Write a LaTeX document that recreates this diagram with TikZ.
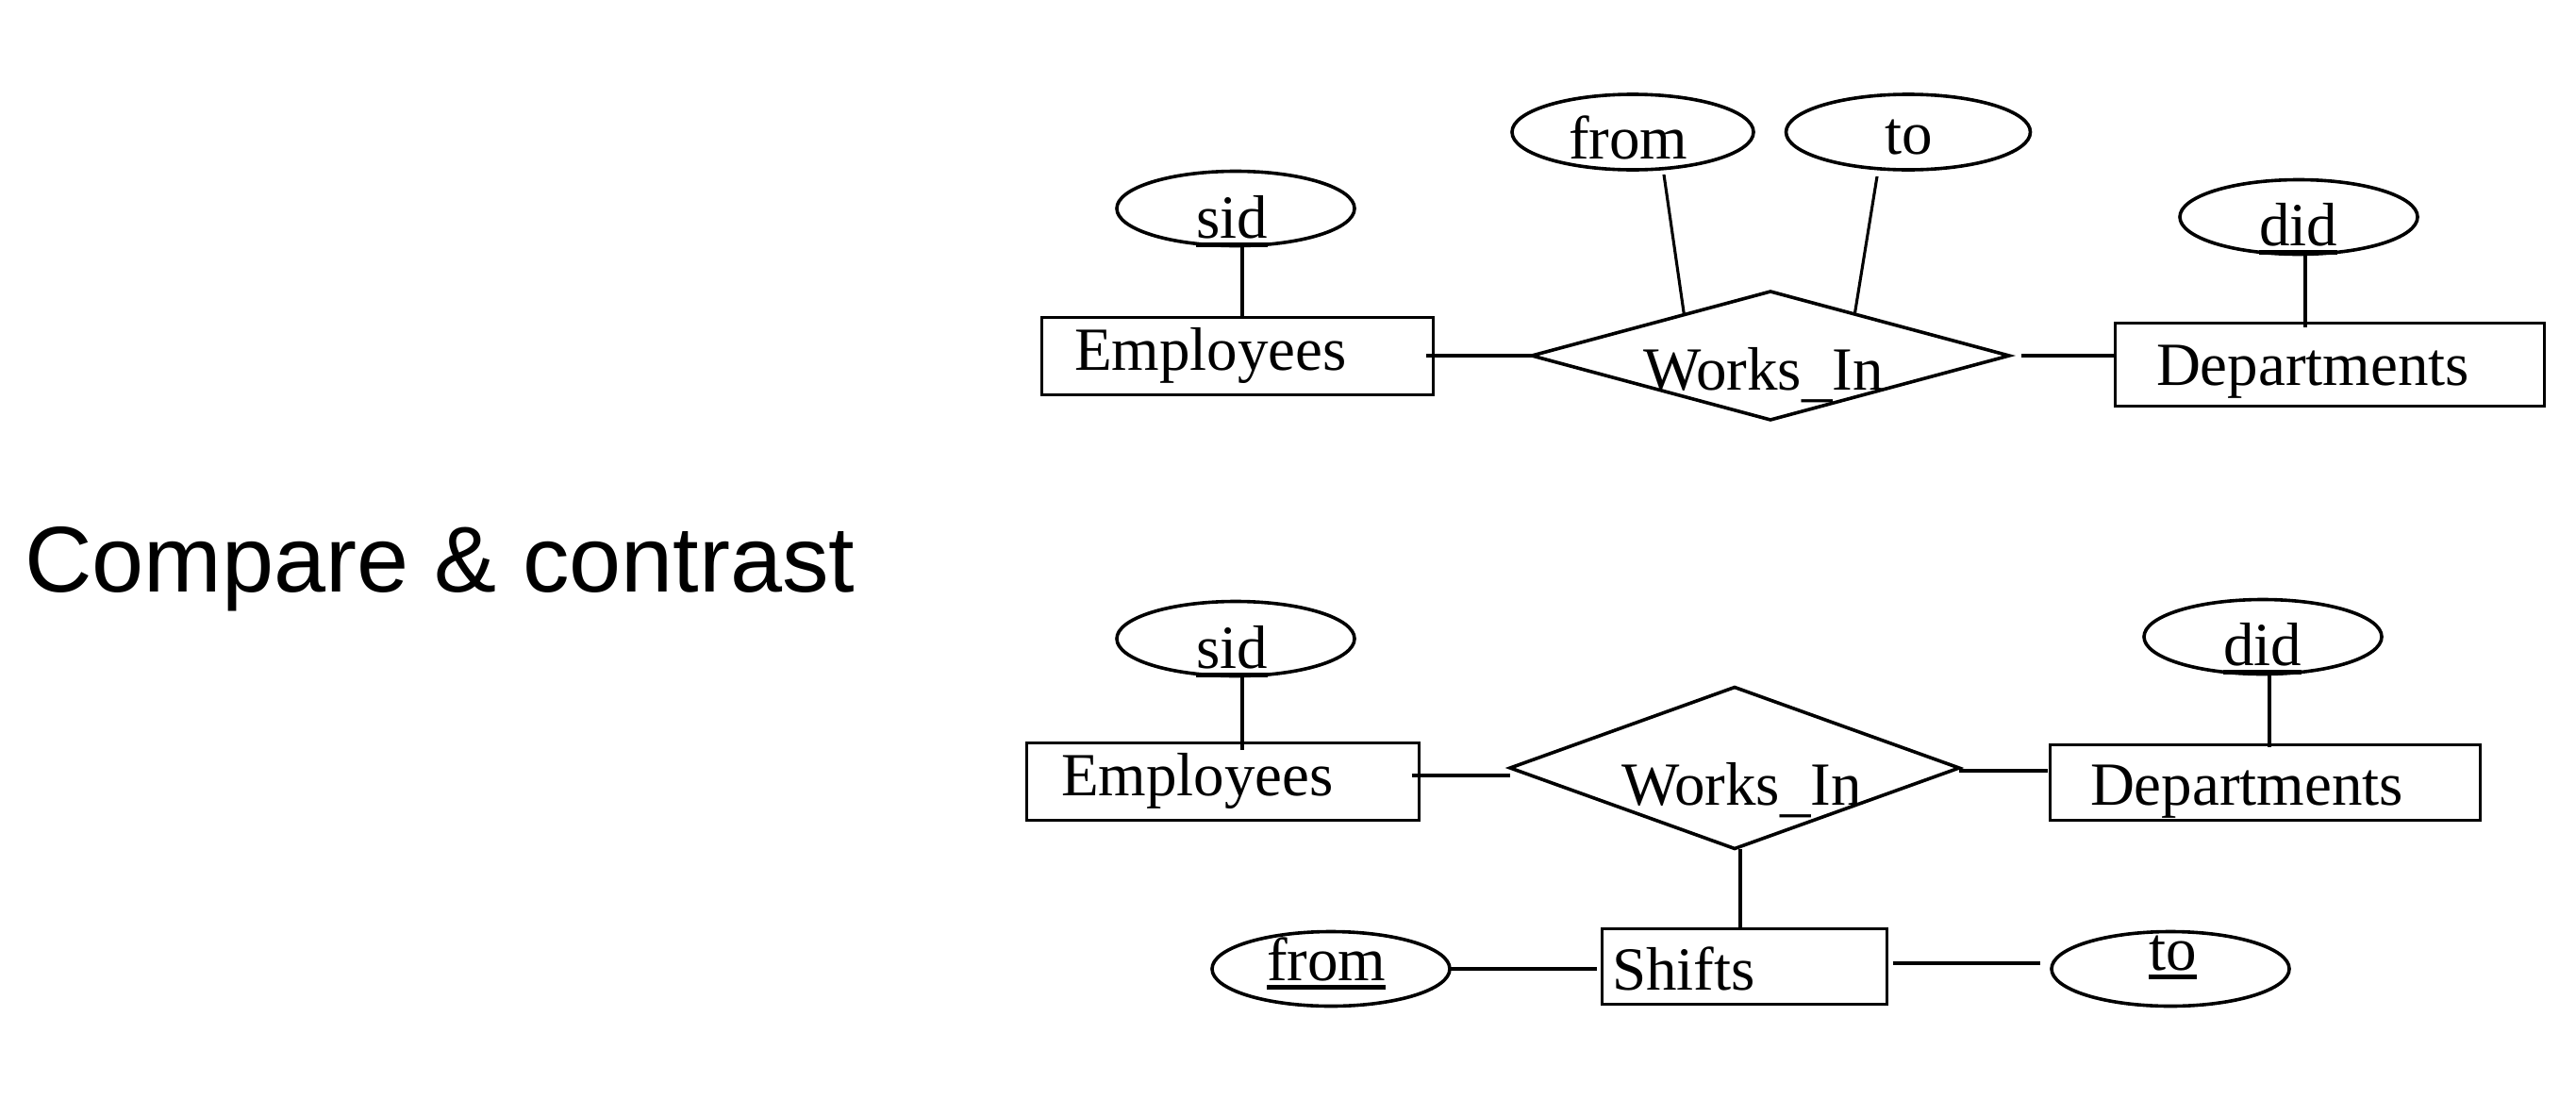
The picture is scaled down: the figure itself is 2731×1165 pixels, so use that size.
\documentclass[tikz,border=0pt]{standalone}
\usepackage{fontspec}
\setmainfont{Liberation Serif}
\newfontfamily\titlefont{Liberation Sans}
\usetikzlibrary{shapes.geometric,calc}
\newcommand\keyul[1]{\setbox0\hbox{#1}\rlap{\rule[-9.5pt]{\wd0}{4.8pt}}\box0}
\newcommand\usc{\raisebox{-5pt}{\_}}
\begin{document}
\begin{tikzpicture}[x=1pt,y=-1pt,
  lwd/.style={line width=3.6pt},
  attr/.style={ellipse,draw,lwd,inner sep=0pt,outer sep=0pt,minimum width=252pt,minimum height=79pt},
  ent/.style={rectangle,draw,lwd,inner sep=0pt,outer sep=0pt},
  rel/.style={diamond,draw,lwd,inner sep=0pt,outer sep=0pt},
  lbl/.style={anchor=base west,inner sep=0pt,outer sep=0pt,font=\fontsize{65}{78}\selectfont},
  conn/.style={line width=3.6pt},
  thinln/.style={line width=3.1pt},
  ]
\useasboundingbox (0,0) rectangle (2731,1165);

% title
\node[anchor=base west,inner sep=0pt,font=\titlefont\fontsize{99}{119}\selectfont] (title) at (26,627) {Compare \& contrast};

% ---------- top diagram ----------
\node[attr] (sid1) at (1310,221) {};
\node[attr,minimum width=256pt,minimum height=80pt] (from1) at (1731,140) {};
\node[attr,minimum width=259pt,minimum height=80pt] (to1) at (2023,140) {};
\node[attr] (did1) at (2437,230) {};
\node[ent,minimum width=415pt,minimum height=82pt] (emp1) at (1312,377.5) {};
\node[ent,minimum width=455pt,minimum height=88pt] (dept1) at (2470,386.5) {};
\node[rel,minimum width=506pt,minimum height=136pt] (wi1) at (1877,377) {};

\node[lbl] (sid1t) at (1268,252) {\keyul{sid}};
\node[lbl] (emp1t) at (1139,392) {Employees};
\node[lbl] (from1t) at (1663,168) {from};
\node[lbl] (to1t) at (1998,163) {to};
\node[lbl] (wi1t) at (1742,413) {Works\usc In};
\node[lbl] (did1t) at (2395,260) {\keyul{did}};
\node[lbl] (dept1t) at (2286,408) {Departments};

\draw[thinln] ([xshift=7pt]sid1.south) -- ([xshift=7pt]sid1.south |- emp1.north);
\draw[thinln,shorten >=-4pt] ([xshift=7pt]did1.south) -- ([xshift=7pt]did1.south |- dept1.north);
\draw[conn,shorten <=-8pt] (wi1.west -| emp1.east) -- (wi1.west);
\draw[conn,shorten <=13pt] (wi1.east) -- (wi1.east -| dept1.west);
\draw[thinln] ([shift={(33,5)}]from1.south) -- ($(wi1.west)!0.638!(wi1.north)$);
\draw[thinln] ([shift={(-33,7)}]to1.south) -- ($(wi1.north)!0.353!(wi1.east)$);

% ---------- bottom diagram ----------
\node[attr] (sid2) at (1310,677) {};
\node[attr] (did2) at (2399,675) {};
\node[attr] (from2) at (1411,1027) {};
\node[attr] (to2) at (2301,1027) {};
\node[ent,minimum width=416pt,minimum height=82pt] (emp2) at (1296.5,828.5) {};
\node[ent,minimum width=456pt,minimum height=80pt] (dept2) at (2401.5,829.5) {};
\node[ent,minimum width=302pt,minimum height=80pt] (shifts) at (1849.5,1024.5) {};
\node[rel,minimum width=476pt,minimum height=171pt] (wi2) at (1839,814) {};

\node[lbl] (sid2t) at (1268,708) {\keyul{sid}};
\node[lbl] (emp2t) at (1125,843) {Employees};
\node[lbl] (wi2t) at (1719,853) {Works\usc In};
\node[lbl] (did2t) at (2357,705) {\keyul{did}};
\node[lbl] (dept2t) at (2216,853) {Departments};
\node[lbl] (shiftst) at (1709,1049) {Shifts};
\node[lbl] (from2t) at (1343,1039) {\keyul{from}};
\node[lbl] (to2t) at (2278,1028) {\keyul{to}};

\draw[thinln,shorten >=-7pt] ([xshift=7pt]sid2.south) -- ([xshift=7pt]sid2.south |- emp2.north);
\draw[thinln,shorten >=-2pt] ([xshift=7pt]did2.south) -- ([xshift=7pt]did2.south |- dept2.north);
\draw[conn,shorten <=-8pt] ([yshift=6.5pt]emp2.east) -- ([yshift=6.5pt]emp2.east -| wi2.west);
\draw[conn,shorten >=3pt] ([yshift=-3pt]wi2.east) -- ([yshift=-3pt]wi2.east -| dept2.west);
\draw[thinln] ([xshift=6pt]wi2.south) -- ([xshift=6pt]wi2.south |- shifts.north);
\draw[conn,shorten >=6pt] (from2.east) -- (from2.east -| shifts.west);
\draw[conn,shorten <=6pt,shorten >=12pt] ([yshift=3.5pt]shifts.east) -- ([yshift=3.5pt]shifts.east -| to2.west);
\end{tikzpicture}
\end{document}
